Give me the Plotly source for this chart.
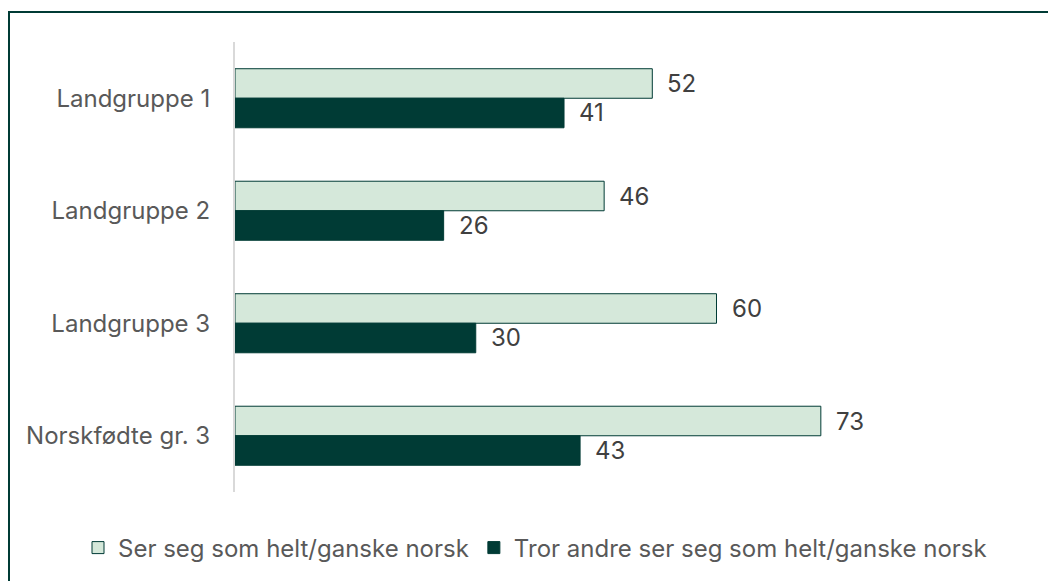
import plotly.graph_objects as go

categories = ["Landgruppe 1", "Landgruppe 2", "Landgruppe 3", "Norskfødte gr. 3"]
series_names = ["Ser seg som helt/ganske norsk", "Tror andre ser seg som helt/ganske norsk"]
values_self = [52, 46, 60, 73]
values_others = [41, 26, 30, 43]

LIGHT = "#d5e8da"
DARK = "#003b35"
FONT = "Inter"
FS = 24

OFF = 8  # page body margin
W, H = 1056 - OFF, 581 - OFF
L, T = 235 - OFF, 42 - OFF
R = 8
B = H - (492 - OFF)
pw = W - L - R
ph = H - T - B
PX_PER_UNIT = 8.025
XMAX = pw / PX_PER_UNIT

fig = go.Figure()
fig.add_trace(go.Bar(
    y=categories, x=values_self, orientation="h", name=series_names[0],
    marker=dict(color=LIGHT, line=dict(color=DARK, width=1)),
))
fig.add_trace(go.Bar(
    y=categories, x=values_others, orientation="h", name=series_names[1],
    marker=dict(color=DARK, line=dict(color=DARK, width=1)),
))

# value labels
for vals, shift in ((values_self, 14.5), (values_others, -14.5)):
    for c, v in zip(categories, vals):
        fig.add_annotation(x=v, y=c, text=str(v), showarrow=False,
                           xanchor="left", xshift=13, yshift=shift,
                           font=dict(family=FONT, size=FS, color="#404040"))

# outer frame
fig.add_shape(type="rect", xref="paper", yref="paper",
              x0=(9 - OFF - L) / pw, x1=(W + 20 - L) / pw,
              y0=-(H + 20 - T - ph) / ph, y1=(T + ph - (12 - OFF)) / ph,
              line=dict(color=DARK, width=2), fillcolor="rgba(0,0,0,0)", layer="below")

fig.update_layout(
    width=W, height=H,
    margin=dict(l=L, r=R, t=T, b=B, autoexpand=False),
    paper_bgcolor="white", plot_bgcolor="white",
    barmode="group", bargap=0.475, bargroupgap=0,
    font=dict(family=FONT, size=FS, color="#595959"),
    showlegend=True,
    legend=dict(orientation="h", x=(78 - 235) / pw, xanchor="left",
                y=-(548 - 492) / ph, yanchor="middle",
                font=dict(family=FONT, size=FS, color="#595959"),
                itemwidth=30, traceorder="normal"),
)
fig.update_xaxes(range=[0, XMAX], showgrid=False, zeroline=False, showticklabels=False,
                 showline=False)
fig.update_yaxes(autorange="reversed", showgrid=False, zeroline=False,
                 showline=True, linecolor="#d9d9d9", linewidth=2,
                 ticklabelstandoff=18, tickfont=dict(family=FONT, size=FS, color="#595959"))

fig.write_html("out.html")
